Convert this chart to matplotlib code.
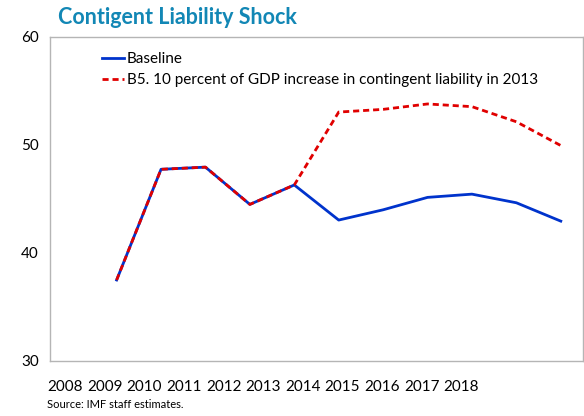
import matplotlib
matplotlib.use("Agg")
import matplotlib.pyplot as plt
import numpy as np

years = [2009, 2010, 2011, 2012, 2013, 2014, 2015, 2016, 2017, 2018, 2019]
baseline = [37.5, 47.75, 47.95, 44.5, 46.3, 43.05, 44.0, 45.15, 45.45, 44.65, 42.95]
shock = [37.5, 47.75, 47.95, 44.5, 46.3, 53.05, 53.3, 53.8, 53.55, 52.15, 49.95]
tick_labels = ["2008", "2009", "2010", "2011", "2012", "2013",
               "2014", "2015", "2016", "2017", "2018"]

plt.rcParams['font.family'] = ['Lato', 'DejaVu Sans']

fig = plt.figure(figsize=(5.84, 4.16), dpi=100)
ax = fig.add_axes([50 / 584, 1 - 361 / 416, 533 / 584, 324 / 416])

ax.plot(years, baseline, color='#0033cc', lw=2.0, label="Baseline")
ax.plot(years, shock, color='#e00000', lw=2.0, ls=(0, (2.2, 1.4)),
        label="B5. 10 percent of GDP increase in contingent liability in 2013")

ax.set_xlim(2007.5, 2019.5)
ax.set_ylim(30, 60)
ax.set_yticks([30, 40, 50, 60])
# category labels in the original sit slightly off the data points
ax.set_xticks(np.linspace(2007.84, 2016.76, len(tick_labels)))
ax.set_xticklabels(tick_labels)
ax.tick_params(length=0, labelsize=11, colors='black')
ax.tick_params(axis='y', pad=8)
ax.tick_params(axis='x', pad=14)

for s in ax.spines.values():
    s.set_color('#b5b5b5')
    s.set_linewidth(1)

ax.legend(loc='upper left', bbox_to_anchor=(0.075, 0.99), frameon=False,
          fontsize=11, handlelength=1.4, handletextpad=0.2, labelspacing=0.45,
          borderaxespad=0.4)

fig.text(58 / 584, 1 - 18 / 416, "Contigent Liability Shock", color='#1287b5',
         fontsize=15.5, fontweight='bold', va='center', ha='left')
fig.text(47 / 584, 1 - 404 / 416, "Source: IMF staff estimates.", fontsize=8,
         va='center', ha='left')

fig.savefig("out.png", dpi=100)
